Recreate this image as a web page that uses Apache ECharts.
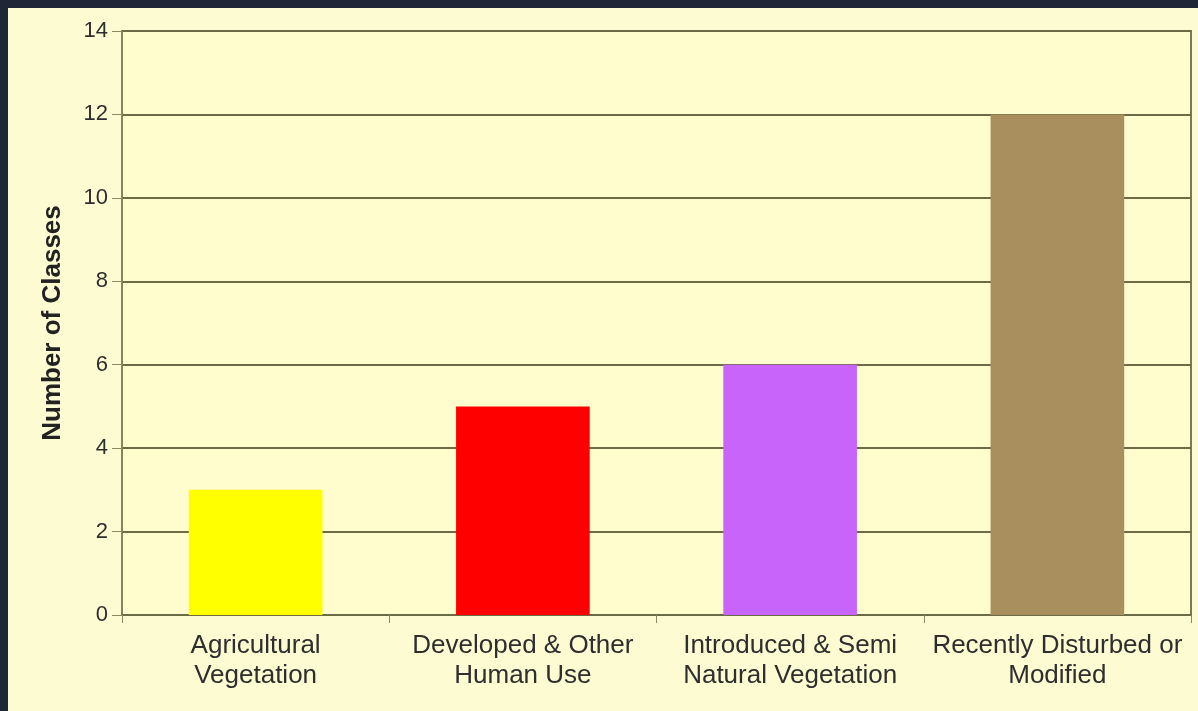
<!DOCTYPE html>
<html>
<head>
<meta charset="utf-8">
<script src="https://cdn.jsdelivr.net/npm/echarts@6/dist/echarts.min.js"></script>
<style>
html,body{margin:0;padding:0;background:#1f2636;width:1198px;height:711px;overflow:hidden;}
#frame{position:absolute;left:8px;top:8px;width:1190px;height:703px;background:#fdfbd2;}
#chart{width:1190px;height:703px;}
</style>
</head>
<body>
<div id="frame"><div id="chart"></div></div>
<script>
const categories = ["Agricultural\nVegetation", "Developed & Other\nHuman Use", "Introduced & Semi\nNatural Vegetation", "Recently Disturbed or\nModified"];
const values = [3, 5, 6, 12];
const barColors = ["#ffff00", "#ff0000", "#c964fb", "#a98f5d"];
const yTicks = [0, 2, 4, 6, 8, 10, 12, 14];
const yTitle = "Number of Classes";

const chart = echarts.init(document.getElementById('chart'), null, {renderer: 'canvas'});
chart.setOption({
  animation: false,
  backgroundColor: 'transparent',
  grid: {left: 114, top: 23, right: 7, bottom: 96, containLabel: false,
         show: true, backgroundColor: '#fffcce', borderColor: '#7a7a55', borderWidth: 2},
  xAxis: {
    type: 'category',
    data: categories,
    axisLine: {show: true, lineStyle: {color: '#6b6b45', width: 2}},
    axisTick: {show: true, length: 8, alignWithLabel: false, lineStyle: {color: '#8a8a60', width: 1}},
    axisLabel: {color: '#2e2e2e', fontSize: 26, fontFamily: 'Liberation Sans, Arial, sans-serif',
                lineHeight: 30, margin: 16, interval: 0}
  },
  yAxis: {
    type: 'value',
    min: yTicks[0], max: yTicks[yTicks.length - 1], interval: 2,
    name: yTitle,
    nameLocation: 'middle',
    nameGap: 56,
    nameRotate: 90,
    nameTextStyle: {color: '#222', fontSize: 26, fontWeight: 'bold', fontFamily: 'Liberation Sans, Arial, sans-serif'},
    axisLine: {show: true, lineStyle: {color: '#8a8a60', width: 1.5}},
    axisTick: {show: true, length: 10, lineStyle: {color: '#8a8a60', width: 1}},
    axisLabel: {color: '#2e2e2e', fontSize: 22, fontFamily: 'Liberation Sans, Arial, sans-serif', margin: 14},
    splitLine: {show: true, lineStyle: {color: '#6b6b45', width: 2}}
  },
  series: [{
    type: 'bar',
    barWidth: '50%',
    data: values.map((v, i) => ({value: v, itemStyle: {color: barColors[i]}}))
  }]
});
</script>
</body>
</html>
